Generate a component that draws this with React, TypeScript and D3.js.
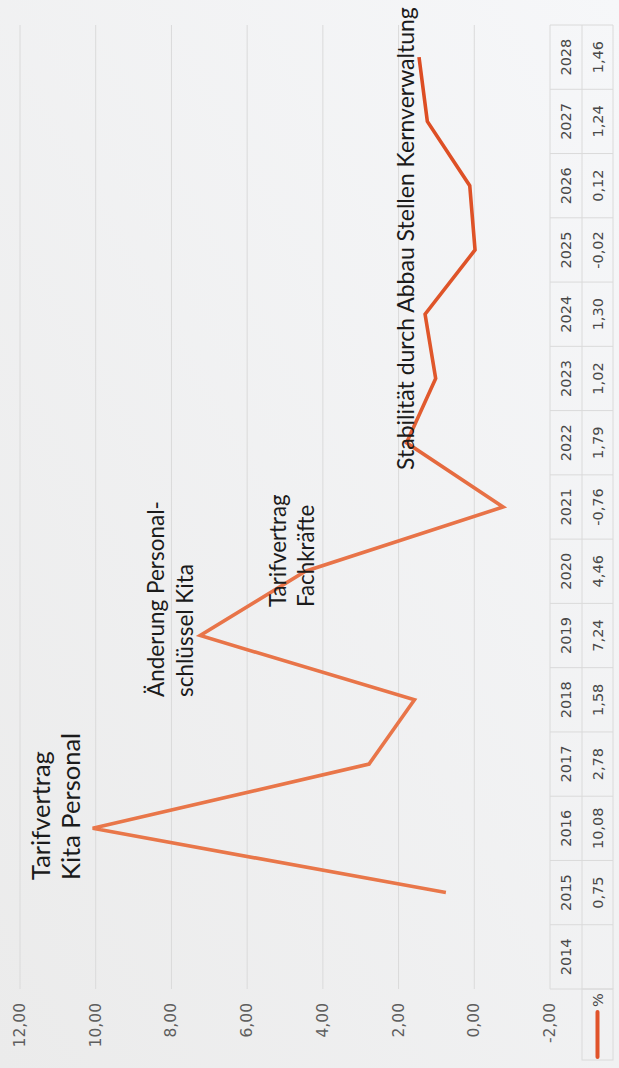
import * as React from "react";
import { scaleBand, scaleLinear, line, formatLocale } from "d3";

const years = [
  "2014", "2015", "2016", "2017", "2018", "2019", "2020", "2021",
  "2022", "2023", "2024", "2025", "2026", "2027", "2028",
];
const rates: (number | null)[] = [
  null, 0.75, 10.08, 2.78, 1.58, 7.24, 4.46, -0.76,
  1.79, 1.02, 1.3, -0.02, 0.12, 1.24, 1.46,
];
const yTicks = [-2, 0, 2, 4, 6, 8, 10, 12];
const seriesName = "%";
const notes = [
  ["Tarifvertrag", "Kita Personal"],
  ["Änderung Personal-", "schlüssel Kita"],
  ["Tarifvertrag", "Fachkräfte"],
  ["Stabilität durch Abbau Stellen Kernverwaltung"],
];

// the page is a scan turned on its side: draw the chart upright, then rotate
const W = 1068;
const H = 619;
const LINE = "#e0532a";
const GRID = "#dadada";

const de = formatLocale({
  decimal: ",",
  thousands: ".",
  grouping: [3],
  currency: ["", " €"],
  minus: "-",
});
const fmt = de.format(".2f");

const notePos = [
  { x: 188, y: 40, size: 25.5, gap: 30 },
  { x: 371, y: 155, size: 22.5, gap: 29 },
  { x: 461, y: 277, size: 22.3, gap: 28 },
  { x: 598, y: 405, size: 23, gap: 0 },
];

const Chart = () => {
  const x = scaleBand<string>().domain(years).range([79, 1043]);
  const y = scaleLinear().domain([-2, 12]).range([550, 20]);
  const cx = (d: string) => (x(d) ?? 0) + x.bandwidth() / 2;

  const pts = years.map((yr, i) => ({ yr, v: rates[i] }));
  const path = line<{ yr: string; v: number | null }>()
    .defined((d) => d.v !== null)
    .x((d) => cx(d.yr))
    .y((d) => y(d.v as number))(pts);

  const rowTop = y(-2);
  const rowMid = 582;
  const rowBot = 613;
  const [x0, x1] = x.range();

  return (
    <g fontFamily="'DejaVu Sans', Verdana, sans-serif">
      <defs>
        {/* the scan fades the left part of the line a little */}
        <linearGradient id="ink" gradientUnits="userSpaceOnUse" x1={x0} y1={0} x2={x1} y2={0}>
          <stop offset="0" stopColor="#e9784a" />
          <stop offset="0.5" stopColor="#e87348" />
          <stop offset="0.62" stopColor="#e0582c" />
          <stop offset="1" stopColor="#dc4b22" />
        </linearGradient>
      </defs>
      {/* gridlines */}
      {yTicks
        .filter((t) => t > -2)
        .map((t) => (
          <line key={t} x1={x0} x2={x1} y1={y(t)} y2={y(t)} stroke={GRID} strokeWidth={1} />
        ))}
      {/* value axis labels */}
      {yTicks.map((t) => (
        <text
          key={t}
          x={65}
          y={y(t)}
          textAnchor="end"
          dominantBaseline="central"
          fontSize={15.5}
          fill="#5e5e5e"
        >
          {fmt(t)}
        </text>
      ))}

      {/* data table */}
      <g stroke={GRID} strokeWidth={1} fill="none">
        <line x1={x0} x2={x1} y1={rowTop} y2={rowTop} />
        <line x1={x0} x2={x1} y1={rowMid} y2={rowMid} />
        <line x1={x0} x2={x1} y1={rowBot} y2={rowBot} />
        <rect x={8} y={rowMid} width={x0 - 8} height={rowBot - rowMid} />
        {years.map((yr) => (
          <line key={yr} x1={x(yr)} x2={x(yr)} y1={rowTop} y2={rowBot} />
        ))}
        <line x1={x1} x2={x1} y1={rowTop} y2={rowBot} />
      </g>
      {years.map((yr, i) => (
        <g key={yr} fontSize={14.5} fill="#484848" textAnchor="middle">
          <text x={cx(yr)} y={(rowTop + rowMid) / 2} dominantBaseline="central">
            {yr}
          </text>
          {rates[i] !== null && (
            <text x={cx(yr)} y={(rowMid + rowBot) / 2} dominantBaseline="central">
              {fmt(rates[i] as number)}
            </text>
          )}
        </g>
      ))}
      {/* legend key */}
      <line
        x1={11}
        x2={56}
        y1={(rowMid + rowBot) / 2}
        y2={(rowMid + rowBot) / 2}
        stroke={LINE}
        strokeWidth={4}
        strokeLinecap="round"
      />
      <text
        x={61}
        y={(rowMid + rowBot) / 2}
        dominantBaseline="central"
        fontSize={14.5}
        fill="#484848"
      >
        {seriesName}
      </text>

      {/* series */}
      <path d={path ?? ""} fill="none" stroke="url(#ink)" strokeWidth={3.6} strokeLinejoin="miter" />

      {/* annotations */}
      {notes.map((ls, i) => (
        <g key={i} fontFamily="Lato, 'Open Sans', sans-serif" fill="#1b1b1b" fontSize={notePos[i].size}>
          {ls.map((s, j) => (
            <text
              key={j}
              x={notePos[i].x}
              y={notePos[i].y + j * notePos[i].gap}
              dominantBaseline="central"
            >
              {s}
            </text>
          ))}
        </g>
      ))}
    </g>
  );
};

export default function App() {
  return (
    <svg
      width={H}
      height={W}
      style={{ position: "absolute", left: 0, top: 0, display: "block" }}
    >
      <defs>
        <linearGradient id="paper" x1="0" y1="1" x2="1" y2="0">
          <stop offset="0" stopColor="#ebebeb" />
          <stop offset="1" stopColor="#f6f7f9" />
        </linearGradient>
      </defs>
      <rect width={H} height={W} fill="url(#paper)" />
      <g transform={`translate(0,${W}) rotate(-90)`}>
        <Chart />
      </g>
    </svg>
  );
}
